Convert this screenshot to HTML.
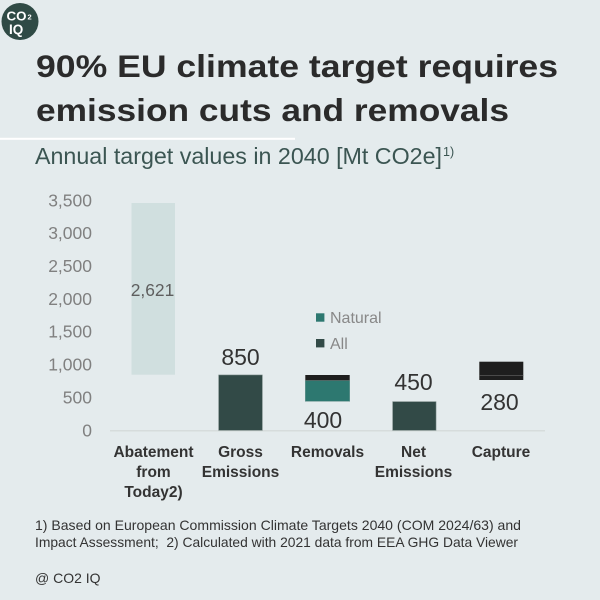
<!DOCTYPE html>
<html>
<head>
<meta charset="utf-8">
<style>
  html,body{margin:0;padding:0;background:#e4ebed;}
  svg{display:block;}
  text{font-family:"Liberation Sans", sans-serif;}
</style>
</head>
<body>
<svg width="600" height="600" viewBox="0 0 600 600" xmlns="http://www.w3.org/2000/svg">
  <rect x="0" y="0" width="600" height="600" fill="#e4ebed"/>

  <!-- Logo -->
  <circle cx="20" cy="21.5" r="18.5" fill="#2f4a45"/>
  <text x="6.5" y="20.5" font-size="13" font-weight="bold" fill="#ffffff" textLength="20" lengthAdjust="spacingAndGlyphs">CO</text>
  <text x="27.5" y="19.5" font-size="7.5" font-weight="bold" fill="#ffffff">2</text>
  <text x="9" y="34" font-size="13.5" font-weight="bold" fill="#ffffff">IQ</text>

  <!-- Title -->
  <text x="36" y="77" font-size="31.5" font-weight="bold" fill="#2b2b2b" textLength="522" lengthAdjust="spacingAndGlyphs">90% EU climate target requires</text>
  <text x="36" y="121" font-size="31.5" font-weight="bold" fill="#2b2b2b" textLength="473" lengthAdjust="spacingAndGlyphs">emission cuts and removals</text>

  <!-- White separator -->
  <rect x="0" y="137.8" width="295" height="2" fill="#ffffff"/>

  <!-- Subtitle -->
  <text x="35" y="164" font-size="23" fill="#3b5552" textLength="407" lengthAdjust="spacingAndGlyphs">Annual target values in 2040 [Mt CO2e]</text>
  <text x="443" y="156" font-size="12.5" fill="#3b5552">1)</text>

  <!-- Y axis labels -->
  <g font-size="17.5" fill="#808080" text-anchor="end">
    <text x="92" y="436.3">0</text>
    <text x="92" y="403.4">500</text>
    <text x="92" y="370.6">1,000</text>
    <text x="92" y="337.7">1,500</text>
    <text x="92" y="304.9">2,000</text>
    <text x="92" y="272">2,500</text>
    <text x="92" y="239.2">3,000</text>
    <text x="92" y="206.3">3,500</text>
  </g>

  <!-- Baseline -->
  <rect x="110" y="430" width="435" height="1.5" fill="#d6dcdc"/>

  <!-- Abatement bar -->
  <rect x="131.5" y="203" width="43.5" height="171.7" fill="#d0dfdf"/>
  <text x="152.5" y="296" font-size="17.4" fill="#5e5e5e" text-anchor="middle">2,621</text>

  <!-- Gross emissions -->
  <rect x="218.7" y="375" width="43.6" height="55.3" fill="#324a47" stroke="#6f807d" stroke-width="0.6"/>
  <text x="240.5" y="365" font-size="23" fill="#333333" text-anchor="middle">850</text>

  <!-- Removals -->
  <rect x="305.3" y="375" width="44.4" height="5.7" fill="#1e1e1e"/>
  <rect x="305.3" y="380.7" width="44.4" height="20.6" fill="#2d7870" stroke="#6f9a95" stroke-width="0.6"/>
  <text x="323" y="428" font-size="23" fill="#333333" text-anchor="middle">400</text>

  <!-- Net emissions -->
  <rect x="392.7" y="401.7" width="43.3" height="28.6" fill="#324a47" stroke="#6f807d" stroke-width="0.6"/>
  <text x="413.5" y="390" font-size="23" fill="#333333" text-anchor="middle">450</text>

  <!-- Capture -->
  <rect x="479.3" y="361.7" width="44" height="18.3" fill="#1e1e1e"/>
  <rect x="479.3" y="375" width="44" height="0.8" fill="#555555"/>
  <text x="499.5" y="410" font-size="23" fill="#333333" text-anchor="middle">280</text>

  <!-- Legend -->
  <rect x="316" y="313.3" width="8.4" height="8.4" fill="#2d7870"/>
  <text x="330" y="323" font-size="16" fill="#888888">Natural</text>
  <rect x="316" y="339" width="8.4" height="8.4" fill="#324a47"/>
  <text x="330" y="349" font-size="16" fill="#888888">All</text>

  <!-- Category labels -->
  <g font-size="15.5" font-weight="bold" fill="#333333" text-anchor="middle">
    <text x="153.5" y="457">Abatement</text>
    <text x="153.5" y="477">from</text>
    <text x="153.5" y="497">Today2)</text>
    <text x="240.5" y="457">Gross</text>
    <text x="240.5" y="477">Emissions</text>
    <text x="327.5" y="457">Removals</text>
    <text x="413.5" y="457">Net</text>
    <text x="413.5" y="477">Emissions</text>
    <text x="501" y="457">Capture</text>
  </g>

  <!-- Footnotes -->
  <g font-size="14" fill="#333333">
    <text x="35" y="530" textLength="486" lengthAdjust="spacingAndGlyphs">1) Based on European Commission Climate Targets 2040 (COM 2024/63) and</text>
    <text x="35" y="547" textLength="483" lengthAdjust="spacingAndGlyphs">Impact Assessment;&#160; 2) Calculated with 2021 data from EEA GHG Data Viewer</text>
    <text x="35" y="583">@ CO2 IQ</text>
  </g>
</svg>
</body>
</html>
